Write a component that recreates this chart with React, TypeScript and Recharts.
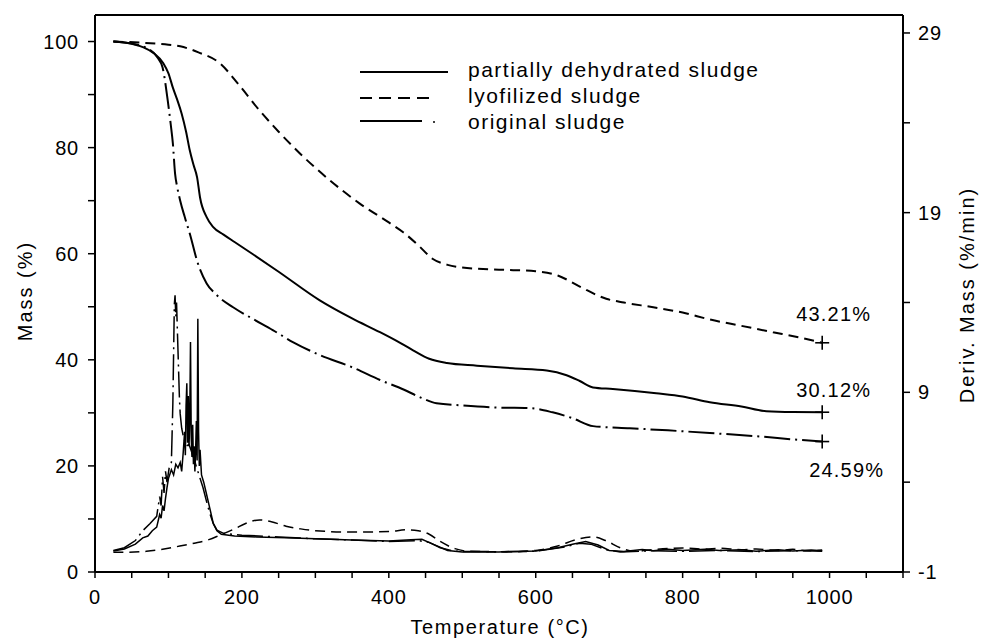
import React from 'react';
import { LineChart, Line, XAxis, YAxis, ReferenceLine, ReferenceDot } from 'recharts';

// Mass curves (%)
const tempPartial = [25, 40, 55, 66, 80, 93, 100, 106, 112, 118, 124, 129, 134, 139, 143, 152, 161, 175, 190, 215, 250, 306, 350, 388, 410, 433, 455, 479, 520, 569, 615, 642, 660, 678, 705, 764, 800, 837, 880, 914, 950, 990];
const massPartial = [100, 99.8, 99.4, 98.9, 97.8, 95.9, 94.0, 91.3, 89.0, 86.4, 83.0, 79.5, 76.8, 74.4, 70.6, 66.9, 65.0, 63.6, 62.2, 59.9, 56.6, 51.2, 47.8, 45.2, 43.6, 41.8, 40.2, 39.4, 38.9, 38.4, 38.0, 37.1, 36.0, 34.8, 34.5, 33.7, 33.1, 32.0, 31.2, 30.3, 30.15, 30.12];

const tempLyo = [25, 60, 100, 116, 140, 170, 195, 224, 250, 279, 320, 360, 400, 420, 440, 460, 480, 500, 550, 600, 630, 660, 696, 720, 760, 800, 837, 880, 923, 959, 990];
const massLyo = [100, 99.8, 99.4, 99.1, 98.0, 95.9, 92.0, 87.0, 83.0, 78.9, 73.8, 69.5, 65.9, 64.0, 61.6, 59.0, 57.9, 57.4, 57.0, 56.7, 55.9, 53.8, 51.5, 50.8, 49.9, 48.9, 47.6, 46.4, 45.2, 44.2, 43.21];

const tempOrig = [25, 50, 70, 85, 92, 99, 103, 106, 109, 112, 116, 122, 129, 140, 152, 165, 188, 215, 242, 270, 306, 350, 388, 420, 445, 465, 500, 550, 592, 623, 650, 678, 728, 780, 837, 900, 959, 990];
const massOrig = [100, 99.6, 98.8, 97.0, 95.1, 88.9, 84.5, 80.8, 75.1, 72.5, 70.0, 67.0, 63.8, 58.2, 54.4, 52.3, 49.9, 47.7, 45.6, 43.3, 40.9, 38.6, 36.2, 34.4, 32.8, 31.8, 31.4, 31.0, 30.9, 30.1, 29.0, 27.5, 27.1, 26.7, 26.2, 25.6, 24.9, 24.59];

// Derivative curves (%/min), right axis
const dtgTempPartial = [25, 40, 55, 65, 72, 78, 84, 88, 90, 92, 94, 96, 98, 100, 104, 107, 110, 113, 116, 118, 120, 122, 123, 124, 125, 126, 127, 128, 129, 130, 131, 132, 133, 134, 135, 136, 137, 138, 139, 140, 141, 142, 143, 145, 148, 152, 156, 161, 166, 172, 190, 220, 260, 300, 350, 400, 430, 445, 460, 480, 500, 550, 600, 630, 650, 668, 685, 700, 720, 745, 760, 780, 800, 830, 850, 880, 900, 930, 950, 975, 990];
const dtgPartial = [0.17, 0.28, 0.55, 0.9, 1.0, 1.3, 1.5, 2.2, 2.0, 2.7, 2.4, 3.1, 3.7, 4.2, 4.7, 4.4, 5.0, 4.8, 5.1, 4.6, 5.6, 6.8, 5.5, 8.3, 9.5, 6.2, 8.8, 6.0, 7.5, 11.8, 6.5, 5.4, 7.2, 5.0, 6.0, 4.6, 5.8, 7.4, 5.2, 13.1, 6.8, 4.9, 5.8, 4.4, 4.0, 3.3, 2.6, 1.7, 1.3, 1.1, 1.0, 0.95, 0.9, 0.85, 0.78, 0.72, 0.8, 0.82, 0.55, 0.2, 0.12, 0.12, 0.17, 0.35, 0.55, 0.7, 0.5, 0.2, 0.14, 0.25, 0.18, 0.26, 0.2, 0.27, 0.2, 0.24, 0.16, 0.24, 0.17, 0.22, 0.18];

const dtgTempLyo = [25, 45, 70, 90, 110, 135, 155, 170, 190, 205, 224, 240, 260, 280, 300, 350, 400, 425, 440, 455, 470, 490, 510, 560, 600, 630, 655, 678, 695, 715, 735, 760, 800, 830, 850, 880, 900, 930, 950, 970, 990];
const dtgLyo = [0.1, 0.1, 0.15, 0.25, 0.4, 0.6, 0.8, 1.05, 1.4, 1.7, 1.9, 1.8, 1.55, 1.4, 1.3, 1.22, 1.25, 1.35, 1.3, 1.1, 0.7, 0.3, 0.15, 0.12, 0.2, 0.45, 0.8, 0.95, 0.75, 0.35, 0.15, 0.25, 0.33, 0.28, 0.32, 0.24, 0.28, 0.2, 0.26, 0.18, 0.22];

const dtgTempOrig = [25, 40, 55, 65, 75, 84, 88, 90, 92, 94, 96, 98, 101, 104, 106, 108, 109, 110, 111, 113, 115, 116, 118, 120, 124, 128, 134, 140, 147, 152, 156, 161, 166, 175, 200, 250, 300, 350, 400, 440, 455, 470, 490, 550, 600, 640, 660, 675, 695, 715, 760, 800, 850, 900, 950, 990];
const dtgOrig = [0.2, 0.35, 0.75, 1.3, 1.7, 2.1, 3.2, 2.7, 4.3, 3.4, 4.6, 4.0, 4.8, 5.1, 8.4, 13.9, 14.4, 13.2, 14.0, 11.3, 8.6, 7.8, 7.0, 6.6, 6.0, 6.1, 5.4, 4.6, 3.7, 2.9, 2.3, 1.7, 1.33, 1.15, 1.05, 0.95, 0.85, 0.78, 0.7, 0.75, 0.65, 0.35, 0.15, 0.13, 0.15, 0.4, 0.6, 0.55, 0.25, 0.12, 0.18, 0.15, 0.2, 0.14, 0.19, 0.15];

const seriesNames = ['partially dehydrated sludge', 'lyofilized sludge', 'original sludge'];
const finalTemp = 990;
const finalMass = [30.12, 43.21, 24.59];
const finalLabels = ['30.12%', '43.21%', '24.59%'];

const xTicks = [0, 50, 100, 150, 200, 250, 300, 350, 400, 450, 500, 550, 600, 650, 700, 750, 800, 850, 900, 950, 1000, 1050, 1100];
const leftTicks = [0, 10, 20, 30, 40, 50, 60, 70, 80, 90, 100];
const rightTicks = [-1, 4, 9, 14, 19, 24, 29];

const zip = (t: number[], v: number[]) => t.map((x, i) => ({ t: x, v: v[i] }));

const DASHED = '10 6';
const DASHDOT = '26 5 2 5';
const FONT = '"Liberation Sans", Arial, sans-serif';

// where each end label sits relative to its "+" marker
const labelOffsets = [
  { dx: -26, dy: -15 },
  { dx: -26, dy: -22 },
  { dx: -13, dy: 35 },
];

const PlusMarker = (props: any) => {
  const { cx, cy, idx } = props;
  const off = labelOffsets[idx];
  return (
    <g>
      <line x1={cx - 7} x2={cx + 7} y1={cy} y2={cy} stroke="#000" strokeWidth={1.6} />
      <line x1={cx} x2={cx} y1={cy - 7} y2={cy + 7} stroke="#000" strokeWidth={1.6} />
      <text x={cx + off.dx} y={cy + off.dy} fontSize={20} fontFamily={FONT} letterSpacing={1.2} fill="#000">
        {finalLabels[idx]}
      </text>
    </g>
  );
};

export default function App() {
  const tickStyle = { fill: '#000', fontSize: 20, fontFamily: FONT, letterSpacing: 0.8 };

  return (
    <div style={{ position: 'absolute', left: 0, top: 0, width: 981, height: 643, background: '#fff' }}>
      <LineChart width={981} height={643} margin={{ top: 15, right: 0, bottom: 0, left: 0 }}>
        <XAxis
          type="number"
          dataKey="t"
          domain={[0, 1100]}
          ticks={xTicks}
          tickFormatter={(v: number) => (v % 200 === 0 && v <= 1000 ? String(v) : '')}
          height={71}
          tick={tickStyle}
          tickSize={6}
          tickMargin={12}
          axisLine={{ stroke: '#000', strokeWidth: 2 }}
          tickLine={{ stroke: '#000', strokeWidth: 1.5 }}
          allowDataOverflow
        />
        <YAxis
          yAxisId="left"
          domain={[0, 105]}
          ticks={leftTicks}
          tickFormatter={(v: number) => (v % 20 === 0 ? String(v) : '')}
          width={95}
          tick={tickStyle}
          tickSize={7}
          tickMargin={9}
          axisLine={{ stroke: '#000', strokeWidth: 2 }}
          tickLine={{ stroke: '#000', strokeWidth: 1.5 }}
          allowDataOverflow
        />
        <YAxis
          yAxisId="right"
          orientation="right"
          domain={[-1, 30]}
          ticks={rightTicks}
          tickFormatter={(v: number) => ((v + 1) % 10 === 0 ? String(v) : '')}
          width={78}
          tick={tickStyle}
          tickSize={7}
          tickMargin={8}
          axisLine={{ stroke: '#000', strokeWidth: 2 }}
          tickLine={{ stroke: '#000', strokeWidth: 1.5 }}
          allowDataOverflow
        />
        <ReferenceLine yAxisId="left" y={105} stroke="#000" strokeWidth={2} />

        {/* derivative curves */}
        <Line yAxisId="right" data={zip(dtgTempPartial, dtgPartial)} dataKey="v" type="linear" stroke="#000" strokeWidth={1.5} dot={false} isAnimationActive={false} />
        <Line yAxisId="right" data={zip(dtgTempLyo, dtgLyo)} dataKey="v" type="monotone" stroke="#000" strokeWidth={1.5} strokeDasharray={DASHED} dot={false} isAnimationActive={false} />
        <Line yAxisId="right" data={zip(dtgTempOrig, dtgOrig)} dataKey="v" type="linear" stroke="#000" strokeWidth={1.5} strokeDasharray={DASHDOT} dot={false} isAnimationActive={false} />

        {/* mass curves */}
        <Line yAxisId="left" data={zip(tempPartial, massPartial)} dataKey="v" type="monotone" stroke="#000" strokeWidth={2} dot={false} isAnimationActive={false} />
        <Line yAxisId="left" data={zip(tempLyo, massLyo)} dataKey="v" type="monotone" stroke="#000" strokeWidth={2} strokeDasharray={DASHED} dot={false} isAnimationActive={false} />
        <Line yAxisId="left" data={zip(tempOrig, massOrig)} dataKey="v" type="monotone" stroke="#000" strokeWidth={2} strokeDasharray={DASHDOT} dot={false} isAnimationActive={false} />

        {finalMass.map((m, i) => (
          <ReferenceDot
            key={i}
            yAxisId="left"
            x={finalTemp}
            y={m}
            shape={(p: any) => <PlusMarker {...p} idx={i} />}
          />
        ))}
      </LineChart>

      {/* titles and legend */}
      <svg width={981} height={643} style={{ position: 'absolute', left: 0, top: 0, pointerEvents: 'none' }}>
        <text x={500} y={634} textAnchor="middle" fontSize={20} fontFamily={FONT} letterSpacing={1.6}>Temperature (°C)</text>
        <text transform="translate(32,291) rotate(-90)" textAnchor="middle" fontSize={20} fontFamily={FONT} letterSpacing={2}>Mass (%)</text>
        <text transform="translate(974,295) rotate(-90)" textAnchor="middle" fontSize={20} fontFamily={FONT} letterSpacing={2}>Deriv. Mass (%/min)</text>

        {seriesNames.map((name, i) => {
          const ly = [72, 98, 121][i];
          const ty = [77, 103, 129][i];
          return (
            <g key={name}>
              {i === 0 && <line x1={360} x2={448} y1={ly} y2={ly} stroke="#000" strokeWidth={2} />}
              {i === 1 && <line x1={360} x2={432} y1={ly} y2={ly} stroke="#000" strokeWidth={2} strokeDasharray="12 7" />}
              {i === 2 && (
                <g>
                  <line x1={360} x2={422} y1={ly} y2={ly} stroke="#000" strokeWidth={2} />
                  <circle cx={434} cy={ly + 1} r={1} fill="#000" />
                </g>
              )}
              <text x={468} y={ty} fontSize={21} fontFamily={FONT} letterSpacing={1.5}>{name}</text>
            </g>
          );
        })}
      </svg>
    </div>
  );
}
